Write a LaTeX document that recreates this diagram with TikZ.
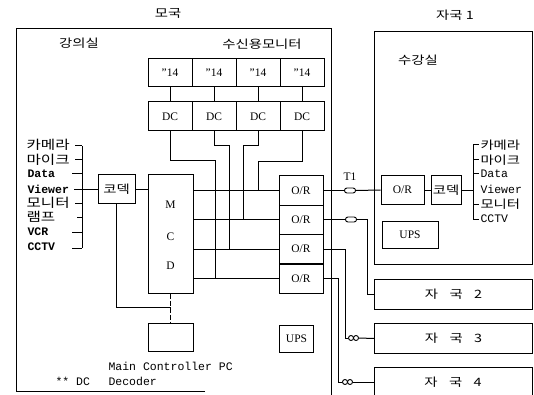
\documentclass[tikz,border=0pt]{standalone}
\usepackage{fontspec}
\setmainfont{Liberation Serif}
\setmonofont{Liberation Mono}
\newfontfamily\kr[FakeStretch=1.25]{Noto Sans CJK KR}
\usetikzlibrary{calc}
\begin{document}
\begin{tikzpicture}[x=1pt,y=-1pt,line width=1pt,
  box/.style={draw,minimum width=44pt,minimum height=29pt,inner sep=0pt,font=\fontsize{11.5}{12}\selectfont},
  krt/.style={inner sep=0pt,font=\kr\fontsize{11.5}{12}\selectfont},
  krl/.style={inner sep=0pt,anchor=west,font=\kr\fontsize{12.5}{12}\selectfont},
  lbl/.style={inner sep=0pt,anchor=west,font=\fontsize{11.5}{12}\selectfont},
  mono/.style={inner sep=0pt,anchor=west,font=\ttfamily\fontsize{11.5}{12}\selectfont},
  monob/.style={inner sep=0pt,anchor=west,font=\ttfamily\bfseries\fontsize{11.5}{12}\selectfont},
  capsule/.style={draw,line width=0.9pt,rounded corners=2.4pt,minimum width=11pt,minimum height=5pt,inner sep=0pt},
  ring/.style={circle,draw,line width=0.9pt,minimum size=5pt,inner sep=0pt},
  station/.style={draw,minimum width=158pt,minimum height=30pt,inner sep=0pt,anchor=north west,font=\kr\fontsize{11.5}{12}\selectfont}]
\useasboundingbox (0,0) rectangle (534,395);

% titles
\node[krt] (tmain) at (168,13) {모국};
\node[krt] (tsub1) at (455,15) {자국 1};
\node[krt] (tlect) at (79,43) {강의실};
\node[krt] (tmon) at (262,44) {수신용모니터};
\node[krt] (tstud) at (418,60) {수강실};

% main station frame
\draw (205,391) -- (16,391) -- (16,29) -- (331,29) -- (331,395);

% monitors and decoders
\foreach \i/\x in {1/170,2/214,3/258,4/302}{
  \node[box,minimum height=28pt] (m\i) at (\x,73) {''14};
  \node[box] (d\i) at (\x,116.5) {DC};
  \draw (m\i) -- (d\i);
}

% MCD
\node[draw,minimum width=45pt,minimum height=118pt,inner sep=0pt] (mcd) at (170.5,234) {};
\node[lbl,anchor=center] (mcdM) at (170.5,205) {M};
\node[lbl,anchor=center] (mcdC) at (170.5,237) {C};
\node[lbl,anchor=center] (mcdD) at (170.5,266) {D};

% O/R boxes
\node[box] (or1) at (301,190.5) {O/R};
\node[box] (or2) at (301,219.5) {O/R};
\node[box] (or3) at (301,249) {O/R};
\node[box] (or4) at (301,278.5) {O/R};
\foreach \i in {1,2,3,4}{ \draw (mcd.east |- or\i.west) -- (or\i.west); }

% decoder wiring
\coordinate (j1) at (215,278.5);
\coordinate (j2) at (229,249);
\coordinate (j3) at (243,219.5);
\coordinate (j4) at (258,190.5);
\draw (d1.south) -- ++(0,29) -| (j1);
\draw (d2.south) -- ++(0,14) -| (j2);
\draw (d3.south) -- ++(0,14) -| (j3);
\draw (d4.south) -- ++(0,30) -| (j4);

% codec left and sources
\node[box,minimum width=37pt,minimum height=28pt,font=\kr\fontsize{11.5}{12}\selectfont] (codecL) at (116.5,189) {코덱};
\draw (codecL.east) -- (mcd.west |- codecL.east);
\coordinate (brL) at (82,189);
\draw (82,146) -- (82,248);
\draw (codecL.west) -- (brL);
\node[krl] (lk1) at (26,145) {카메라};
\node[krl] (lk2) at (26,160) {마이크};
\node[monob] (lk3) at (27,174) {Data};
\node[monob] (lk4) at (27,189) {Viewer};
\node[krl] (lk5) at (26,203) {모니터};
\node[krl] (lk6) at (26,217) {램프};
\node[monob] (lk7) at (27,232) {VCR};
\node[monob] (lk8) at (27,247) {CCTV};
\draw (75,146) -- (82,146);
\draw (75,160) -- (82,160);
\draw (72,174) -- (82,174);
\draw (74,189) -- (brL);
\draw (75,203) -- (82,203);
\draw (77,217) -- (82,217);
\draw (72,232) -- (82,232);
\draw (72,248) -- (82,248);

% main controller PC
\node[draw,minimum width=45pt,minimum height=28pt,inner sep=0pt] (pc) at (170.5,337) {};
\coordinate (jpc) at (170.5,307);
\draw[dash pattern=on 5pt off 2pt] (mcd.south) -- (pc.north);
\draw (codecL.south) |- (jpc);
\node[mono] (pctxt) at (108,366) {Main Controller PC};
\node[mono] (dectxt) at (108,381) {Decoder};
\node[mono] (dcnote) at (55,381) {** DC};

% UPS main
\node[box,minimum width=34pt,minimum height=27pt] (upsL) at (296.5,338.5) {UPS};

% station 1
\node[draw,minimum width=158pt,minimum height=233pt,inner sep=0pt,anchor=north west] (s1) at (374,31) {};
\node[box,minimum width=43pt,minimum height=28pt] (orR) at (402.5,190) {O/R};
\node[box,minimum width=30pt,minimum height=28pt,font=\kr\fontsize{11.5}{12}\selectfont] (codecR) at (446,190) {코덱};
\node[box,minimum width=56pt,minimum height=27pt] (upsR) at (410,234.5) {UPS};
\draw (orR.east) -- (codecR.west);
\coordinate (brR) at (473,190);
\draw (codecR.east) -- (brR);
\draw (473,145) -- (473,219);
\node[krt,anchor=west] (rk1) at (480,145) {카메라};
\node[krt,anchor=west] (rk2) at (480,160) {마이크};
\node[mono] (rk3) at (480,174) {Data};
\node[mono] (rk4) at (480,189) {Viewer};
\node[krt,anchor=west] (rk5) at (480,204) {모니터};
\node[mono] (rk6) at (480,219) {CCTV};
\draw (473,145) -- (479,145);
\draw (473,160) -- (479,160);
\draw (473,174) -- (479,174);
\draw (473,204) -- (479,204);
\draw (473,219) -- (479,219);

% link T1
\node[capsule] (c1) at (350,190.5) {};
\node[lbl,anchor=center] (t1) at (350,177) {T1};
\draw (or1.east) -- (c1.west);
\draw (c1.east) -- (orR.west);

% stations 2-4
\node[station] (s2) at (374,279) {자\quad 국\quad 2};
\node[station] (s3) at (374,323) {자\quad 국\quad 3};
\draw (374,396) -- (374,367) -- (532,367) -- (532,396);
\node[krt] (s4) at (453,382) {자\quad 국\quad 4};
\coordinate (s4w) at (374,382);

% link 2
\node[capsule] (c2) at (351,219.5) {};
\draw (or2.east) -- (c2.west);
\draw (c2.east) -- (367,219.5) |- (s2.west);

% link 3
\node[ring] (c3a) at (351,338) {};
\node[ring] (c3b) at (356,338) {};
\draw (or3.east) -- (345,249) |- (c3a.west);
\draw (c3b.east) -- (s3.west);

% link 4
\node[ring] (c4a) at (345,382) {};
\node[ring] (c4b) at (350,382) {};
\draw (or4.east) -- (338,278.5) |- (c4a.west);
\draw (c4b.east) -- (s4w);
\end{tikzpicture}
\end{document}
